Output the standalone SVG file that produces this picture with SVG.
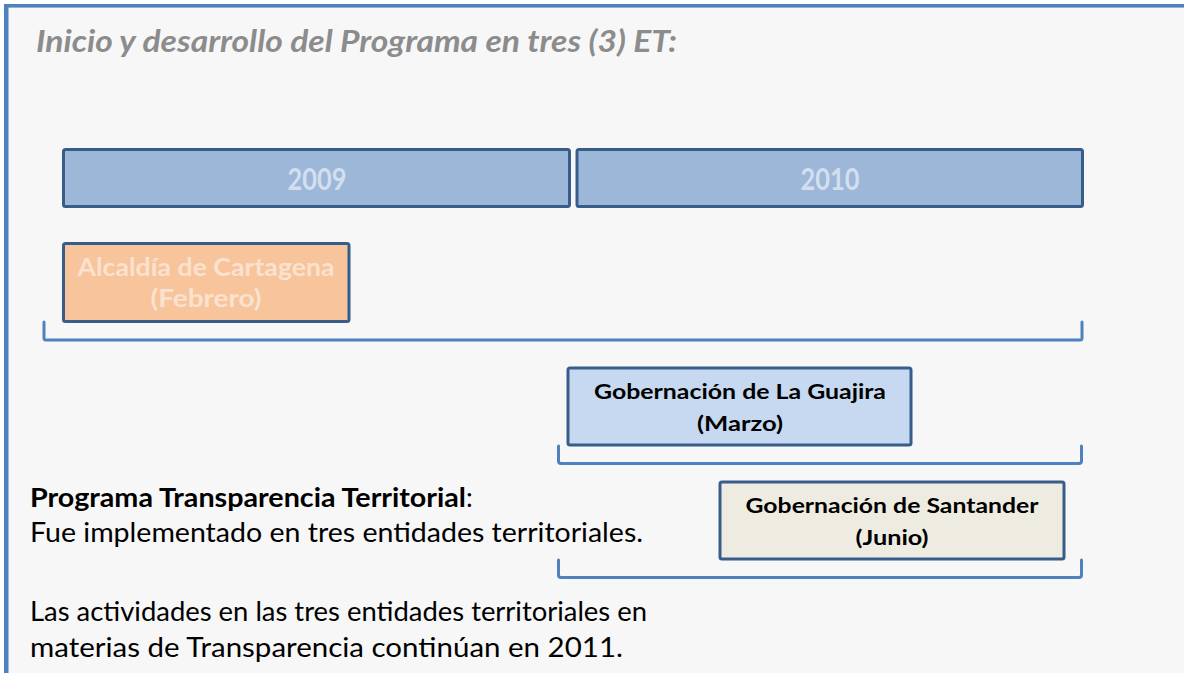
<svg xmlns="http://www.w3.org/2000/svg" width="1184" height="673" viewBox="0 0 1184 673">
<style>
  .bg { fill: #f7f7f7; }
  .frame { fill: #4f81bd; }
  .year { fill: #9db7d8; stroke: #385d8a; stroke-width: 3; }
  .yeartxt { font-family: Lato, "Open Sans", sans-serif; font-weight: bold; font-size: 31px; fill: #d3dfee; text-anchor: middle; }
  .org { fill: #f7c49b; stroke: #385d8a; stroke-width: 3; }
  .orgtxt { font-family: Lato, "Open Sans", sans-serif; font-weight: bold; font-size: 25px; fill: #fbe2cf; text-anchor: middle; }
  .guaj { fill: #c6d9f0; stroke: #385d8a; stroke-width: 3; }
  .sant { fill: #eeece1; stroke: #385d8a; stroke-width: 3; }
  .boxtxt { font-family: Lato, "Open Sans", sans-serif; font-weight: bold; font-size: 20px; fill: #000; text-anchor: middle; }
  .brace { fill: none; stroke: #4f81bd; stroke-width: 3; stroke-linejoin: round; stroke-linecap: round; }
  .title { font-family: Lato, "Open Sans", sans-serif; font-weight: bold; font-style: italic; font-size: 30px; fill: #8c8c8c; }
  .body { font-family: Lato, "Open Sans", sans-serif; font-size: 27px; fill: #000; }
</style>
<rect x="0" y="0" width="1184" height="673" fill="#ffffff"/>
<rect class="bg" x="8" y="7" width="1176" height="666"/>
<rect class="frame" x="4" y="4" width="1180" height="3.6"/>
<rect class="frame" x="4" y="4" width="4.5" height="669"/>

<text class="title" x="36" y="52" textLength="641" lengthAdjust="spacingAndGlyphs">Inicio y desarrollo del Programa en tres (3) ET:</text>

<g id="y2009">
  <rect class="year" x="63.5" y="149.5" width="506" height="57" rx="2"/>
  <text class="yeartxt" x="317" y="190" textLength="59" lengthAdjust="spacingAndGlyphs">2009</text>
</g>
<g id="y2010">
  <rect class="year" x="577" y="149.5" width="505.5" height="57" rx="2"/>
  <text class="yeartxt" x="830" y="190" textLength="59" lengthAdjust="spacingAndGlyphs">2010</text>
</g>
<g id="cartagena">
  <rect class="org" x="63.5" y="243.5" width="285.5" height="78" rx="2"/>
  <text class="orgtxt" x="206" y="276" textLength="257" lengthAdjust="spacingAndGlyphs">Alcaldía de Cartagena</text>
  <text class="orgtxt" x="206" y="307" textLength="111" lengthAdjust="spacingAndGlyphs">(Febrero)</text>
</g>
<g id="guajira">
  <rect class="guaj" x="568" y="368" width="343" height="77" rx="2"/>
  <text class="boxtxt" x="740" y="399" textLength="292" lengthAdjust="spacingAndGlyphs">Gobernación  de La Guajira</text>
  <text class="boxtxt" x="740" y="431" textLength="86" lengthAdjust="spacingAndGlyphs">(Marzo)</text>
</g>
<g id="santander">
  <rect class="sant" x="720" y="482" width="344" height="77" rx="2"/>
  <text class="boxtxt" x="892" y="513" textLength="293" lengthAdjust="spacingAndGlyphs">Gobernación  de Santander</text>
  <text class="boxtxt" x="892" y="545" textLength="73" lengthAdjust="spacingAndGlyphs">(Junio)</text>
</g>

<g id="connectors">
  <path class="brace" d="M44,322 V338 Q44,340 46,340 H1080 Q1082,340 1082,338 V322"/>
  <path class="brace" d="M558.5,446 V461 Q558.5,463.5 561,463.5 H1079 Q1081.5,463.5 1081.5,461 V446"/>
  <path class="brace" d="M558.5,560 V575 Q558.5,577.5 561,577.5 H1079 Q1081.5,577.5 1081.5,575 V560"/>
</g>

<g id="notes">
  <text class="body" x="30" y="507"><tspan font-weight="bold" textLength="436" lengthAdjust="spacingAndGlyphs">Programa Transparencia Territorial</tspan><tspan>:</tspan></text>
  <text class="body" x="30" y="542" textLength="613" lengthAdjust="spacingAndGlyphs">Fue implementado en tres entidades territoriales.</text>
  <text class="body" x="30" y="621" textLength="617" lengthAdjust="spacingAndGlyphs">Las actividades en las tres entidades territoriales en</text>
  <text class="body" x="30" y="657" textLength="593" lengthAdjust="spacingAndGlyphs">materias de Transparencia continúan en 2011.</text>
</g>
</svg>
